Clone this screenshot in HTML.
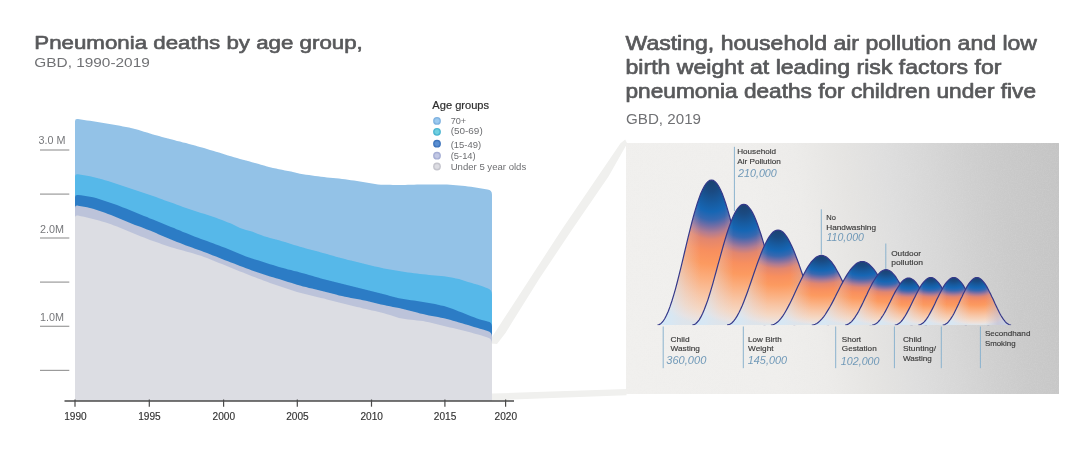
<!DOCTYPE html>
<html lang="en"><head><meta charset="utf-8"><title>Pneumonia deaths by age group</title>
<style>
html,body{margin:0;padding:0;background:#fff;}
body{width:1080px;height:451px;overflow:hidden;font-family:"Liberation Sans",sans-serif;}
svg{display:block;font-family:"Liberation Sans",sans-serif;}
</style></head><body>
<svg width="1080" height="451" viewBox="0 0 1080 451">
<defs>
<linearGradient id="pg" gradientUnits="userSpaceOnUse" x1="626" y1="394" x2="1085.4" y2="329.5">
<stop offset="0.000" stop-color="#f1f0ee"/>
<stop offset="0.323" stop-color="#f0efed"/>
<stop offset="0.431" stop-color="#edecea"/>
<stop offset="0.539" stop-color="#e5e4e2"/>
<stop offset="0.625" stop-color="#dedede"/>
<stop offset="0.711" stop-color="#d7d7d7"/>
<stop offset="0.797" stop-color="#cfcfcf"/>
<stop offset="0.862" stop-color="#cacaca"/>
<stop offset="0.927" stop-color="#c7c7c7"/>
<stop offset="1.000" stop-color="#c4c4c4"/>
</linearGradient>
<radialGradient id="bg" cx="0.5" cy="0" r="1" fx="0.5" fy="0">
<stop offset="0" stop-color="#1c416f"/>
<stop offset="0.08" stop-color="#1a4a82"/>
<stop offset="0.16" stop-color="#175ba0"/>
<stop offset="0.22" stop-color="#1666b4"/>
<stop offset="0.275" stop-color="#3868b0"/>
<stop offset="0.32" stop-color="#766ea4"/>
<stop offset="0.365" stop-color="#b27c90"/>
<stop offset="0.41" stop-color="#e2866e"/>
<stop offset="0.49" stop-color="#f88f5e"/>
<stop offset="0.58" stop-color="#fc9a60"/>
<stop offset="0.68" stop-color="#fbae7e"/>
<stop offset="0.80" stop-color="#f8c6a6"/>
<stop offset="0.90" stop-color="#f5d8c4"/>
<stop offset="0.97" stop-color="#ebe3e0"/>
<stop offset="1" stop-color="#dee5ea"/>
</radialGradient>
<linearGradient id="lt" x1="0" y1="0" x2="1" y2="0">
<stop offset="0" stop-color="#cfe8fb" stop-opacity="0.95"/>
<stop offset="0.13" stop-color="#d4e8f8" stop-opacity="0.62"/>
<stop offset="0.26" stop-color="#dde2ec" stop-opacity="0.28"/>
<stop offset="0.4" stop-color="#e0dce4" stop-opacity="0"/>
<stop offset="0.62" stop-color="#c0b4c8" stop-opacity="0"/>
<stop offset="0.8" stop-color="#b8b0c8" stop-opacity="0.5"/>
<stop offset="1" stop-color="#c8dcf0" stop-opacity="0.9"/>
</linearGradient>
<filter id="bl1" x="-5%" y="-5%" width="110%" height="110%"><feGaussianBlur stdDeviation="0.5"/></filter>
<filter id="nz" x="0" y="0" width="100%" height="100%"><feTurbulence type="fractalNoise" baseFrequency="0.85" numOctaves="2" seed="3" result="n"/><feColorMatrix type="matrix" values="0 0 0 0 0.8  0 0 0 0 0.8  0 0 0 0 0.8  0.9 0 0 0 -0.33"/></filter>
</defs>
<rect width="1080" height="451" fill="#ffffff"/>
<polygon points="488,343.2 503,320 561.5,230 620.5,143.3 625.2,139.6 627.2,143.5 608.5,176.6 571.8,230 538.5,280 526,300 513.5,320 505.5,333 497,344" fill="#f0f0ee" filter="url(#bl1)"/>
<polygon points="492,393.6 492,400.4 626.5,395.3 626.5,389" fill="#f0f0ee" filter="url(#bl1)"/>
<rect x="626" y="143" width="433" height="251" fill="url(#pg)"/>
<rect x="626" y="143" width="433" height="251" filter="url(#nz)" opacity="0.35"/>
<path d="M75,401 L75,121.2 Q75,118.7 77.5,119.0 L78.0,119.1 L81.0,119.5 L84.0,119.9 L87.0,120.4 L90.0,120.8 L93.0,121.3 L96.0,121.7 L99.0,122.2 L102.0,122.7 L105.0,123.3 L108.0,123.8 L111.0,124.3 L114.0,124.8 L117.0,125.3 L120.0,125.8 L123.0,126.4 L126.0,127.0 L129.0,127.6 L132.0,128.2 L135.0,129.0 L138.0,129.8 L141.0,130.7 L144.0,131.7 L147.0,132.6 L150.0,133.5 L153.0,134.4 L156.0,135.2 L159.0,136.1 L162.0,136.9 L165.0,137.7 L168.0,138.5 L171.0,139.3 L174.0,140.1 L177.0,140.9 L180.0,141.6 L183.0,142.4 L186.0,143.1 L189.0,143.9 L192.0,144.7 L195.0,145.5 L198.0,146.4 L201.0,147.2 L204.0,148.1 L207.0,149.0 L210.0,149.9 L213.0,150.8 L216.0,151.7 L219.0,152.6 L222.0,153.6 L225.0,154.5 L228.0,155.4 L231.0,156.3 L234.0,157.2 L237.0,158.0 L240.0,158.9 L243.0,159.7 L246.0,160.5 L249.0,161.3 L252.0,162.2 L255.0,163.0 L258.0,163.8 L261.0,164.7 L264.0,165.6 L267.0,166.4 L270.0,167.2 L273.0,168.0 L276.0,168.6 L279.0,169.3 L282.0,169.8 L285.0,170.4 L288.0,171.0 L291.0,171.6 L294.0,172.3 L297.0,173.1 L300.0,173.7 L303.0,174.2 L306.0,174.7 L309.0,175.1 L312.0,175.6 L315.0,176.0 L318.0,176.3 L321.0,176.7 L324.0,177.0 L327.0,177.4 L330.0,177.7 L333.0,177.9 L336.0,178.2 L339.0,178.6 L342.0,178.9 L345.0,179.3 L348.0,179.7 L351.0,180.2 L354.0,180.6 L357.0,181.1 L360.0,181.5 L363.0,182.0 L366.0,182.5 L369.0,183.0 L372.0,183.6 L375.0,184.1 L378.0,184.4 L381.0,184.7 L384.0,184.7 L387.0,184.8 L390.0,184.8 L393.0,184.9 L396.0,184.9 L399.0,184.9 L402.0,184.9 L405.0,184.9 L408.0,184.8 L411.0,184.7 L414.0,184.7 L417.0,184.6 L420.0,184.5 L423.0,184.5 L426.0,184.5 L429.0,184.5 L432.0,184.5 L435.0,184.5 L438.0,184.5 L441.0,184.5 L444.0,184.5 L447.0,184.6 L450.0,184.7 L453.0,184.9 L456.0,185.2 L459.0,185.4 L462.0,185.7 L465.0,186.0 L468.0,186.4 L471.0,186.8 L474.0,187.3 L477.0,187.8 L480.0,188.3 L483.0,188.8 L486.0,189.3 L487.5,189.6 Q492,189.8 492,194.8 L492,401 Z" fill="#93c2e7"/>
<path d="M75,401 L75,176.5 Q75,174.0 77.5,174.3 L78.0,174.3 L81.0,174.8 L84.0,175.2 L87.0,175.7 L90.0,176.3 L93.0,176.9 L96.0,177.7 L99.0,178.5 L102.0,179.3 L105.0,180.2 L108.0,181.1 L111.0,182.0 L114.0,182.9 L117.0,183.9 L120.0,184.9 L123.0,185.9 L126.0,186.9 L129.0,187.9 L132.0,188.9 L135.0,189.9 L138.0,190.9 L141.0,191.9 L144.0,193.0 L147.0,194.0 L150.0,195.0 L153.0,196.1 L156.0,197.1 L159.0,198.2 L162.0,199.3 L165.0,200.4 L168.0,201.5 L171.0,202.5 L174.0,203.6 L177.0,204.7 L180.0,205.8 L183.0,206.9 L186.0,207.9 L189.0,209.0 L192.0,210.0 L195.0,211.0 L198.0,211.9 L201.0,212.9 L204.0,213.8 L207.0,214.7 L210.0,215.7 L213.0,216.7 L216.0,217.8 L219.0,218.9 L222.0,220.0 L225.0,221.2 L228.0,222.4 L231.0,223.6 L234.0,225.0 L237.0,226.5 L240.0,227.9 L243.0,229.0 L246.0,229.9 L249.0,230.8 L252.0,231.6 L255.0,232.7 L258.0,233.9 L261.0,235.1 L264.0,236.2 L267.0,237.1 L270.0,237.9 L273.0,238.7 L276.0,239.5 L279.0,240.3 L282.0,241.2 L285.0,242.1 L288.0,243.0 L291.0,244.0 L294.0,244.9 L297.0,245.8 L300.0,246.7 L303.0,247.6 L306.0,248.4 L309.0,249.2 L312.0,250.0 L315.0,250.8 L318.0,251.6 L321.0,252.4 L324.0,253.2 L327.0,254.0 L330.0,254.9 L333.0,255.8 L336.0,256.7 L339.0,257.5 L342.0,258.3 L345.0,259.1 L348.0,259.9 L351.0,260.6 L354.0,261.3 L357.0,262.0 L360.0,262.8 L363.0,263.5 L366.0,264.2 L369.0,264.9 L372.0,265.7 L375.0,266.4 L378.0,267.1 L381.0,267.8 L384.0,268.4 L387.0,269.0 L390.0,269.5 L393.0,270.1 L396.0,270.6 L399.0,271.0 L402.0,271.5 L405.0,271.9 L408.0,272.4 L411.0,272.8 L414.0,273.2 L417.0,273.6 L420.0,273.9 L423.0,274.3 L426.0,274.6 L429.0,274.9 L432.0,275.2 L435.0,275.4 L438.0,275.7 L441.0,276.0 L444.0,276.3 L447.0,276.7 L450.0,277.2 L453.0,277.7 L456.0,278.4 L459.0,279.0 L462.0,279.9 L465.0,280.9 L468.0,281.9 L471.0,282.8 L474.0,283.7 L477.0,284.5 L480.0,285.5 L483.0,286.6 L486.0,287.7 L487.5,288.3 Q492,289.7 492,294.7 L492,401 Z" fill="#56b8e9"/>
<path d="M75,401 L75,197.3 Q75,194.8 77.5,195.0 L78.0,195.0 L81.0,195.3 L84.0,195.7 L87.0,196.2 L90.0,196.7 L93.0,197.3 L96.0,198.1 L99.0,198.9 L102.0,199.9 L105.0,200.9 L108.0,201.9 L111.0,202.9 L114.0,203.9 L117.0,205.0 L120.0,206.2 L123.0,207.4 L126.0,208.6 L129.0,209.8 L132.0,211.0 L135.0,212.2 L138.0,213.4 L141.0,214.7 L144.0,215.9 L147.0,217.1 L150.0,218.4 L153.0,219.6 L156.0,220.8 L159.0,222.0 L162.0,223.2 L165.0,224.5 L168.0,225.7 L171.0,226.9 L174.0,228.1 L177.0,229.4 L180.0,230.6 L183.0,231.9 L186.0,233.1 L189.0,234.3 L192.0,235.5 L195.0,236.7 L198.0,237.8 L201.0,238.9 L204.0,240.0 L207.0,241.1 L210.0,242.2 L213.0,243.3 L216.0,244.4 L219.0,245.6 L222.0,246.7 L225.0,247.8 L228.0,249.0 L231.0,250.2 L234.0,251.4 L237.0,252.8 L240.0,254.1 L243.0,255.3 L246.0,256.4 L249.0,257.4 L252.0,258.4 L255.0,259.4 L258.0,260.3 L261.0,261.3 L264.0,262.2 L267.0,263.2 L270.0,264.2 L273.0,265.1 L276.0,266.0 L279.0,266.9 L282.0,267.8 L285.0,268.6 L288.0,269.4 L291.0,270.1 L294.0,270.9 L297.0,271.6 L300.0,272.4 L303.0,273.2 L306.0,274.0 L309.0,274.9 L312.0,275.8 L315.0,276.7 L318.0,277.6 L321.0,278.5 L324.0,279.3 L327.0,280.0 L330.0,280.8 L333.0,281.5 L336.0,282.3 L339.0,283.0 L342.0,283.8 L345.0,284.5 L348.0,285.2 L351.0,286.0 L354.0,286.7 L357.0,287.5 L360.0,288.2 L363.0,288.9 L366.0,289.7 L369.0,290.5 L372.0,291.2 L375.0,292.0 L378.0,292.8 L381.0,293.5 L384.0,294.3 L387.0,295.1 L390.0,295.9 L393.0,296.7 L396.0,297.5 L399.0,298.2 L402.0,298.8 L405.0,299.3 L408.0,299.8 L411.0,300.2 L414.0,300.6 L417.0,301.0 L420.0,301.5 L423.0,301.9 L426.0,302.4 L429.0,303.0 L432.0,303.5 L435.0,304.1 L438.0,304.7 L441.0,305.4 L444.0,306.1 L447.0,306.9 L450.0,307.9 L453.0,309.0 L456.0,310.2 L459.0,311.4 L462.0,312.6 L465.0,313.8 L468.0,315.0 L471.0,316.2 L474.0,317.3 L477.0,318.4 L480.0,319.4 L483.0,320.2 L486.0,321.0 L487.5,321.4 Q492,321.8 492,326.8 L492,401 Z" fill="#2c7cc5"/>
<path d="M75,401 L75,207.8 Q75,205.3 77.5,205.6 L78.0,205.7 L81.0,206.2 L84.0,206.7 L87.0,207.3 L90.0,208.0 L93.0,208.8 L96.0,209.7 L99.0,210.7 L102.0,211.7 L105.0,212.8 L108.0,214.0 L111.0,215.1 L114.0,216.2 L117.0,217.5 L120.0,218.7 L123.0,220.0 L126.0,221.2 L129.0,222.5 L132.0,223.7 L135.0,224.9 L138.0,226.0 L141.0,227.1 L144.0,228.3 L147.0,229.4 L150.0,230.6 L153.0,231.8 L156.0,233.1 L159.0,234.4 L162.0,235.7 L165.0,237.0 L168.0,238.3 L171.0,239.6 L174.0,240.8 L177.0,242.0 L180.0,243.1 L183.0,244.3 L186.0,245.4 L189.0,246.5 L192.0,247.6 L195.0,248.7 L198.0,249.7 L201.0,250.8 L204.0,251.9 L207.0,253.1 L210.0,254.2 L213.0,255.4 L216.0,256.6 L219.0,257.8 L222.0,259.0 L225.0,260.2 L228.0,261.3 L231.0,262.5 L234.0,263.6 L237.0,264.8 L240.0,265.9 L243.0,267.0 L246.0,268.2 L249.0,269.3 L252.0,270.4 L255.0,271.5 L258.0,272.5 L261.0,273.6 L264.0,274.6 L267.0,275.5 L270.0,276.4 L273.0,277.3 L276.0,278.2 L279.0,279.1 L282.0,280.0 L285.0,280.9 L288.0,281.9 L291.0,282.8 L294.0,283.8 L297.0,284.7 L300.0,285.5 L303.0,286.4 L306.0,287.1 L309.0,287.9 L312.0,288.6 L315.0,289.3 L318.0,290.0 L321.0,290.7 L324.0,291.5 L327.0,292.2 L330.0,293.0 L333.0,293.8 L336.0,294.6 L339.0,295.4 L342.0,296.1 L345.0,296.7 L348.0,297.3 L351.0,297.9 L354.0,298.5 L357.0,299.0 L360.0,299.6 L363.0,300.2 L366.0,300.8 L369.0,301.5 L372.0,302.2 L375.0,303.0 L378.0,303.7 L381.0,304.4 L384.0,305.1 L387.0,305.7 L390.0,306.3 L393.0,306.9 L396.0,307.5 L399.0,308.1 L402.0,308.8 L405.0,309.5 L408.0,310.3 L411.0,311.0 L414.0,311.8 L417.0,312.6 L420.0,313.4 L423.0,314.1 L426.0,314.7 L429.0,315.4 L432.0,315.9 L435.0,316.5 L438.0,317.1 L441.0,317.7 L444.0,318.3 L447.0,319.0 L450.0,319.8 L453.0,320.7 L456.0,321.5 L459.0,322.4 L462.0,323.3 L465.0,324.2 L468.0,325.1 L471.0,326.0 L474.0,326.9 L477.0,327.8 L480.0,328.7 L483.0,329.6 L486.0,330.5 L487.5,330.9 Q492,331.8 492,336.8 L492,401 Z" fill="#bcc3da"/>
<path d="M75,401 L75,217.6 Q75,215.1 77.5,215.5 L78.0,215.6 L81.0,216.2 L84.0,216.8 L87.0,217.5 L90.0,218.2 L93.0,218.9 L96.0,219.7 L99.0,220.6 L102.0,221.4 L105.0,222.3 L108.0,223.3 L111.0,224.3 L114.0,225.4 L117.0,226.5 L120.0,227.8 L123.0,229.1 L126.0,230.3 L129.0,231.6 L132.0,232.8 L135.0,234.0 L138.0,235.2 L141.0,236.4 L144.0,237.6 L147.0,238.7 L150.0,239.9 L153.0,241.0 L156.0,242.1 L159.0,243.1 L162.0,244.2 L165.0,245.2 L168.0,246.2 L171.0,247.2 L174.0,248.1 L177.0,249.0 L180.0,249.8 L183.0,250.6 L186.0,251.4 L189.0,252.2 L192.0,253.1 L195.0,253.9 L198.0,254.9 L201.0,255.8 L204.0,256.9 L207.0,258.0 L210.0,259.2 L213.0,260.4 L216.0,261.7 L219.0,262.9 L222.0,264.1 L225.0,265.3 L228.0,266.5 L231.0,267.8 L234.0,269.0 L237.0,270.2 L240.0,271.4 L243.0,272.6 L246.0,273.8 L249.0,275.0 L252.0,276.2 L255.0,277.3 L258.0,278.5 L261.0,279.6 L264.0,280.7 L267.0,281.8 L270.0,282.9 L273.0,284.0 L276.0,285.1 L279.0,286.1 L282.0,287.1 L285.0,288.1 L288.0,289.1 L291.0,290.0 L294.0,291.0 L297.0,291.9 L300.0,292.7 L303.0,293.6 L306.0,294.3 L309.0,295.1 L312.0,295.8 L315.0,296.5 L318.0,297.2 L321.0,297.9 L324.0,298.6 L327.0,299.4 L330.0,300.2 L333.0,300.9 L336.0,301.7 L339.0,302.5 L342.0,303.3 L345.0,304.0 L348.0,304.7 L351.0,305.5 L354.0,306.2 L357.0,306.9 L360.0,307.6 L363.0,308.4 L366.0,309.1 L369.0,309.8 L372.0,310.4 L375.0,311.1 L378.0,311.8 L381.0,312.5 L384.0,313.3 L387.0,314.2 L390.0,315.1 L393.0,316.1 L396.0,317.0 L399.0,317.9 L402.0,318.5 L405.0,319.0 L408.0,319.4 L411.0,319.7 L414.0,320.0 L417.0,320.4 L420.0,320.7 L423.0,321.1 L426.0,321.7 L429.0,322.3 L432.0,323.0 L435.0,323.7 L438.0,324.5 L441.0,325.3 L444.0,326.0 L447.0,326.7 L450.0,327.4 L453.0,328.1 L456.0,328.7 L459.0,329.4 L462.0,330.2 L465.0,331.0 L468.0,331.8 L471.0,332.6 L474.0,333.4 L477.0,334.2 L480.0,335.0 L483.0,335.9 L486.0,336.9 L487.5,337.4 Q492,338.5 492,343.5 L492,401 Z" fill="#dcdde3"/>
<line x1="40" x2="69.3" y1="150" y2="150" stroke="#9b9b9b" stroke-width="1.2"/>
<line x1="40" x2="69.3" y1="194.1" y2="194.1" stroke="#9b9b9b" stroke-width="1.2"/>
<line x1="40" x2="69.3" y1="238.0" y2="238.0" stroke="#9b9b9b" stroke-width="1.2"/>
<line x1="40" x2="69.3" y1="282.1" y2="282.1" stroke="#9b9b9b" stroke-width="1.2"/>
<line x1="40" x2="69.3" y1="326.3" y2="326.3" stroke="#9b9b9b" stroke-width="1.2"/>
<line x1="40" x2="69.3" y1="370.4" y2="370.4" stroke="#9b9b9b" stroke-width="1.2"/>
<line x1="64.5" x2="514" y1="401" y2="401" stroke="#4a4a4a" stroke-width="1.3"/>
<line x1="75" x2="75" y1="399.5" y2="406.7" stroke="#4a4a4a" stroke-width="1.2"/>
<line x1="149.3" x2="149.3" y1="399.5" y2="406.7" stroke="#4a4a4a" stroke-width="1.2"/>
<line x1="223.6" x2="223.6" y1="399.5" y2="406.7" stroke="#4a4a4a" stroke-width="1.2"/>
<line x1="297.3" x2="297.3" y1="399.5" y2="406.7" stroke="#4a4a4a" stroke-width="1.2"/>
<line x1="371.5" x2="371.5" y1="399.5" y2="406.7" stroke="#4a4a4a" stroke-width="1.2"/>
<line x1="444.9" x2="444.9" y1="399.5" y2="406.7" stroke="#4a4a4a" stroke-width="1.2"/>
<line x1="505.6" x2="505.6" y1="399.5" y2="406.7" stroke="#4a4a4a" stroke-width="1.2"/>
<text x="75.5" y="420" font-size="10.2" fill="#333333" font-weight="normal" font-style="normal" text-anchor="middle" textLength="22.5" lengthAdjust="spacingAndGlyphs" stroke="#333333" stroke-width="0.15" stroke-linejoin="round">1990</text>
<text x="149.5" y="420" font-size="10.2" fill="#333333" font-weight="normal" font-style="normal" text-anchor="middle" textLength="22.5" lengthAdjust="spacingAndGlyphs" stroke="#333333" stroke-width="0.15" stroke-linejoin="round">1995</text>
<text x="223.8" y="420" font-size="10.2" fill="#333333" font-weight="normal" font-style="normal" text-anchor="middle" textLength="22.5" lengthAdjust="spacingAndGlyphs" stroke="#333333" stroke-width="0.15" stroke-linejoin="round">2000</text>
<text x="297.5" y="420" font-size="10.2" fill="#333333" font-weight="normal" font-style="normal" text-anchor="middle" textLength="22.5" lengthAdjust="spacingAndGlyphs" stroke="#333333" stroke-width="0.15" stroke-linejoin="round">2005</text>
<text x="371.7" y="420" font-size="10.2" fill="#333333" font-weight="normal" font-style="normal" text-anchor="middle" textLength="22.5" lengthAdjust="spacingAndGlyphs" stroke="#333333" stroke-width="0.15" stroke-linejoin="round">2010</text>
<text x="445.1" y="420" font-size="10.2" fill="#333333" font-weight="normal" font-style="normal" text-anchor="middle" textLength="22.5" lengthAdjust="spacingAndGlyphs" stroke="#333333" stroke-width="0.15" stroke-linejoin="round">2015</text>
<text x="505.8" y="420" font-size="10.2" fill="#333333" font-weight="normal" font-style="normal" text-anchor="middle" textLength="22.5" lengthAdjust="spacingAndGlyphs" stroke="#333333" stroke-width="0.15" stroke-linejoin="round">2020</text>
<text x="38.5" y="144" font-size="10.5" fill="#77787b" font-weight="normal" font-style="normal" text-anchor="start" textLength="27" lengthAdjust="spacingAndGlyphs">3.0 M</text>
<text x="40" y="233.4" font-size="10.5" fill="#77787b" font-weight="normal" font-style="normal" text-anchor="start" textLength="24" lengthAdjust="spacingAndGlyphs">2.0M</text>
<text x="40" y="321.4" font-size="10.5" fill="#77787b" font-weight="normal" font-style="normal" text-anchor="start" textLength="24" lengthAdjust="spacingAndGlyphs">1.0M</text>
<text x="34.3" y="49.4" font-size="19.2" fill="#58595b" font-weight="normal" font-style="normal" text-anchor="start" textLength="328.5" lengthAdjust="spacingAndGlyphs" stroke="#58595b" stroke-width="0.65" stroke-linejoin="round">Pneumonia deaths by age group,</text>
<text x="34.3" y="67.4" font-size="13.1" fill="#707174" font-weight="normal" font-style="normal" text-anchor="start" textLength="115.5" lengthAdjust="spacingAndGlyphs">GBD, 1990-2019</text>
<text x="625.5" y="50" font-size="20.4" fill="#58595b" font-weight="normal" font-style="normal" text-anchor="start" textLength="411.5" lengthAdjust="spacingAndGlyphs" stroke="#58595b" stroke-width="0.7" stroke-linejoin="round">Wasting, household air pollution and low</text>
<text x="625.5" y="74.2" font-size="20.4" fill="#58595b" font-weight="normal" font-style="normal" text-anchor="start" textLength="376" lengthAdjust="spacingAndGlyphs" stroke="#58595b" stroke-width="0.7" stroke-linejoin="round">birth weight at leading risk factors for</text>
<text x="625.5" y="98.4" font-size="20.4" fill="#58595b" font-weight="normal" font-style="normal" text-anchor="start" textLength="410.5" lengthAdjust="spacingAndGlyphs" stroke="#58595b" stroke-width="0.7" stroke-linejoin="round">pneumonia deaths for children under five</text>
<text x="626" y="124.2" font-size="13.9" fill="#707174" font-weight="normal" font-style="normal" text-anchor="start" textLength="75" lengthAdjust="spacingAndGlyphs">GBD, 2019</text>
<text x="432.3" y="108.5" font-size="10.3" fill="#2e2e2e" font-weight="normal" font-style="normal" text-anchor="start" textLength="56.8" lengthAdjust="spacingAndGlyphs" stroke="#2e2e2e" stroke-width="0.2" stroke-linejoin="round">Age groups</text>
<radialGradient id="lg0" cx="0.5" cy="0.5" r="0.5"><stop offset="0" stop-color="#9ccaf0"/><stop offset="0.45" stop-color="#9ccaf0"/><stop offset="0.8" stop-color="#7fb2e0"/><stop offset="1" stop-color="#7fb2e0"/></radialGradient>
<circle cx="437" cy="120.9" r="3.9" fill="url(#lg0)"/>
<text x="450.7" y="124" font-size="8.6" fill="#6d6e71" font-weight="normal" font-style="normal" text-anchor="start" textLength="15.5" lengthAdjust="spacingAndGlyphs">70+</text>
<radialGradient id="lg1" cx="0.5" cy="0.5" r="0.5"><stop offset="0" stop-color="#70d0e0"/><stop offset="0.45" stop-color="#70d0e0"/><stop offset="0.8" stop-color="#4ab4d0"/><stop offset="1" stop-color="#4ab4d0"/></radialGradient>
<circle cx="437" cy="131.8" r="3.9" fill="url(#lg1)"/>
<text x="450.7" y="134.4" font-size="8.6" fill="#6d6e71" font-weight="normal" font-style="normal" text-anchor="start" textLength="32" lengthAdjust="spacingAndGlyphs">(50-69)</text>
<radialGradient id="lg2" cx="0.5" cy="0.5" r="0.5"><stop offset="0" stop-color="#5a8fd2"/><stop offset="0.45" stop-color="#5a8fd2"/><stop offset="0.8" stop-color="#3e74bc"/><stop offset="1" stop-color="#3e74bc"/></radialGradient>
<circle cx="437" cy="143.7" r="3.9" fill="url(#lg2)"/>
<text x="450.7" y="148" font-size="8.6" fill="#6d6e71" font-weight="normal" font-style="normal" text-anchor="start" textLength="30.5" lengthAdjust="spacingAndGlyphs">(15-49)</text>
<radialGradient id="lg3" cx="0.5" cy="0.5" r="0.5"><stop offset="0" stop-color="#c2c8e4"/><stop offset="0.45" stop-color="#c2c8e4"/><stop offset="0.8" stop-color="#a6aed4"/><stop offset="1" stop-color="#a6aed4"/></radialGradient>
<circle cx="437" cy="155.7" r="3.9" fill="url(#lg3)"/>
<text x="450.7" y="159.4" font-size="8.6" fill="#6d6e71" font-weight="normal" font-style="normal" text-anchor="start" textLength="25" lengthAdjust="spacingAndGlyphs">(5-14)</text>
<radialGradient id="lg4" cx="0.5" cy="0.5" r="0.5"><stop offset="0" stop-color="#dddde3"/><stop offset="0.45" stop-color="#dddde3"/><stop offset="0.8" stop-color="#c4c4cc"/><stop offset="1" stop-color="#c4c4cc"/></radialGradient>
<circle cx="437" cy="166.5" r="3.9" fill="url(#lg4)"/>
<text x="450.7" y="170" font-size="8.6" fill="#6d6e71" font-weight="normal" font-style="normal" text-anchor="start" textLength="75.5" lengthAdjust="spacingAndGlyphs">Under 5 year olds</text>
<clipPath id="bc"><rect x="626" y="143" width="433" height="182.3"/></clipPath>
<g clip-path="url(#bc)">
<path d="M657.5,325.0 L659.3,324.6 L661.1,323.4 L662.9,321.5 L664.7,318.7 L666.5,315.3 L668.3,311.2 L670.1,306.4 L671.9,301.0 L673.7,295.1 L675.5,288.8 L677.3,282.0 L679.1,274.9 L680.9,267.6 L682.7,260.1 L684.5,252.5 L686.3,244.9 L688.1,237.4 L689.9,230.1 L691.7,223.0 L693.5,216.2 L695.3,209.9 L697.1,204.0 L698.9,198.6 L700.7,193.8 L702.5,189.7 L704.3,186.3 L706.1,183.5 L707.9,181.6 L709.7,180.4 L711.5,180.0 L713.3,180.4 L715.1,181.6 L716.9,183.5 L718.7,186.3 L720.5,189.7 L722.3,193.8 L724.1,198.6 L725.9,204.0 L727.7,209.9 L729.5,216.2 L731.3,223.0 L733.1,230.1 L734.9,237.4 L736.7,244.9 L738.5,252.5 L740.3,260.1 L742.1,267.6 L743.9,274.9 L745.7,282.0 L747.5,288.8 L749.3,295.1 L751.1,301.0 L752.9,306.4 L754.7,311.2 L756.5,315.3 L758.3,318.7 L760.1,321.5 L761.9,323.4 L763.7,324.6 L765.5,325.0 Z" fill="url(#bg)"/>
<path d="M657.5,325.0 L659.3,324.6 L661.1,323.4 L662.9,321.5 L664.7,318.7 L666.5,315.3 L668.3,311.2 L670.1,306.4 L671.9,301.0 L673.7,295.1 L675.5,288.8 L677.3,282.0 L679.1,274.9 L680.9,267.6 L682.7,260.1 L684.5,252.5 L686.3,244.9 L688.1,237.4 L689.9,230.1 L691.7,223.0 L693.5,216.2 L695.3,209.9 L697.1,204.0 L698.9,198.6 L700.7,193.8 L702.5,189.7 L704.3,186.3 L706.1,183.5 L707.9,181.6 L709.7,180.4 L711.5,180.0 L713.3,180.4 L715.1,181.6 L716.9,183.5 L718.7,186.3 L720.5,189.7 L722.3,193.8 L724.1,198.6 L725.9,204.0 L727.7,209.9 L729.5,216.2 L731.3,223.0 L733.1,230.1 L734.9,237.4 L736.7,244.9 L738.5,252.5 L740.3,260.1 L742.1,267.6 L743.9,274.9 L745.7,282.0 L747.5,288.8 L749.3,295.1 L751.1,301.0 L752.9,306.4 L754.7,311.2 L756.5,315.3 L758.3,318.7 L760.1,321.5 L761.9,323.4 L763.7,324.6 L765.5,325.0 Z" fill="url(#lt)"/>
<path d="M657.5,325.0 L659.3,324.6 L661.1,323.4 L662.9,321.5 L664.7,318.7 L666.5,315.3 L668.3,311.2 L670.1,306.4 L671.9,301.0 L673.7,295.1 L675.5,288.8 L677.3,282.0 L679.1,274.9 L680.9,267.6 L682.7,260.1 L684.5,252.5 L686.3,244.9 L688.1,237.4 L689.9,230.1 L691.7,223.0 L693.5,216.2 L695.3,209.9 L697.1,204.0 L698.9,198.6 L700.7,193.8 L702.5,189.7 L704.3,186.3 L706.1,183.5 L707.9,181.6 L709.7,180.4 L711.5,180.0 L713.3,180.4 L715.1,181.6 L716.9,183.5 L718.7,186.3 L720.5,189.7 L722.3,193.8 L724.1,198.6 L725.9,204.0 L727.7,209.9 L729.5,216.2 L731.3,223.0 L733.1,230.1 L734.9,237.4 L736.7,244.9 L738.5,252.5 L740.3,260.1 L742.1,267.6 L743.9,274.9 L745.7,282.0 L747.5,288.8 L749.3,295.1 L751.1,301.0 L752.9,306.4 L754.7,311.2 L756.5,315.3 L758.3,318.7 L760.1,321.5 L761.9,323.4 L763.7,324.6 L765.5,325.0" fill="none" stroke="#35398a" stroke-width="1.2"/>
<path d="M692.3,325.0 L694.0,324.7 L695.7,323.7 L697.4,322.0 L699.2,319.8 L700.9,316.9 L702.6,313.5 L704.3,309.5 L706.0,305.0 L707.8,300.1 L709.5,294.8 L711.2,289.2 L712.9,283.3 L714.6,277.2 L716.3,271.0 L718.0,264.6 L719.8,258.3 L721.5,252.1 L723.2,246.0 L724.9,240.1 L726.6,234.5 L728.3,229.2 L730.1,224.3 L731.8,219.8 L733.5,215.8 L735.2,212.4 L736.9,209.5 L738.6,207.3 L740.4,205.6 L742.1,204.6 L743.8,204.3 L745.5,204.6 L747.2,205.6 L748.9,207.3 L750.7,209.5 L752.4,212.4 L754.1,215.8 L755.8,219.8 L757.5,224.3 L759.2,229.2 L761.0,234.5 L762.7,240.1 L764.4,246.0 L766.1,252.1 L767.8,258.3 L769.5,264.6 L771.3,271.0 L773.0,277.2 L774.7,283.3 L776.4,289.2 L778.1,294.8 L779.8,300.1 L781.6,305.0 L783.3,309.5 L785.0,313.5 L786.7,316.9 L788.4,319.8 L790.1,322.0 L791.9,323.7 L793.6,324.7 L795.3,325.0 Z" fill="url(#bg)"/>
<path d="M692.3,325.0 L694.0,324.7 L695.7,323.7 L697.4,322.0 L699.2,319.8 L700.9,316.9 L702.6,313.5 L704.3,309.5 L706.0,305.0 L707.8,300.1 L709.5,294.8 L711.2,289.2 L712.9,283.3 L714.6,277.2 L716.3,271.0 L718.0,264.6 L719.8,258.3 L721.5,252.1 L723.2,246.0 L724.9,240.1 L726.6,234.5 L728.3,229.2 L730.1,224.3 L731.8,219.8 L733.5,215.8 L735.2,212.4 L736.9,209.5 L738.6,207.3 L740.4,205.6 L742.1,204.6 L743.8,204.3 L745.5,204.6 L747.2,205.6 L748.9,207.3 L750.7,209.5 L752.4,212.4 L754.1,215.8 L755.8,219.8 L757.5,224.3 L759.2,229.2 L761.0,234.5 L762.7,240.1 L764.4,246.0 L766.1,252.1 L767.8,258.3 L769.5,264.6 L771.3,271.0 L773.0,277.2 L774.7,283.3 L776.4,289.2 L778.1,294.8 L779.8,300.1 L781.6,305.0 L783.3,309.5 L785.0,313.5 L786.7,316.9 L788.4,319.8 L790.1,322.0 L791.9,323.7 L793.6,324.7 L795.3,325.0 Z" fill="url(#lt)"/>
<path d="M692.3,325.0 L694.0,324.7 L695.7,323.7 L697.4,322.0 L699.2,319.8 L700.9,316.9 L702.6,313.5 L704.3,309.5 L706.0,305.0 L707.8,300.1 L709.5,294.8 L711.2,289.2 L712.9,283.3 L714.6,277.2 L716.3,271.0 L718.0,264.6 L719.8,258.3 L721.5,252.1 L723.2,246.0 L724.9,240.1 L726.6,234.5 L728.3,229.2 L730.1,224.3 L731.8,219.8 L733.5,215.8 L735.2,212.4 L736.9,209.5 L738.6,207.3 L740.4,205.6 L742.1,204.6 L743.8,204.3 L745.5,204.6 L747.2,205.6 L748.9,207.3 L750.7,209.5 L752.4,212.4 L754.1,215.8 L755.8,219.8 L757.5,224.3 L759.2,229.2 L761.0,234.5 L762.7,240.1 L764.4,246.0 L766.1,252.1 L767.8,258.3 L769.5,264.6 L771.3,271.0 L773.0,277.2 L774.7,283.3 L776.4,289.2 L778.1,294.8 L779.8,300.1 L781.6,305.0 L783.3,309.5 L785.0,313.5 L786.7,316.9 L788.4,319.8 L790.1,322.0 L791.9,323.7 L793.6,324.7 L795.3,325.0" fill="none" stroke="#35398a" stroke-width="1.2"/>
<path d="M727.0,325.0 L728.7,324.7 L730.4,324.0 L732.1,322.7 L733.8,320.9 L735.5,318.6 L737.2,315.9 L738.9,312.8 L740.6,309.3 L742.3,305.4 L744.0,301.2 L745.7,296.8 L747.4,292.2 L749.1,287.4 L750.8,282.5 L752.5,277.5 L754.2,272.5 L755.9,267.6 L757.6,262.8 L759.3,258.2 L761.0,253.8 L762.7,249.6 L764.4,245.7 L766.1,242.2 L767.8,239.1 L769.5,236.4 L771.2,234.1 L772.9,232.3 L774.6,231.0 L776.3,230.3 L778.0,230.0 L779.7,230.3 L781.4,231.0 L783.1,232.3 L784.8,234.1 L786.5,236.4 L788.2,239.1 L789.9,242.2 L791.6,245.7 L793.3,249.6 L795.0,253.8 L796.7,258.2 L798.4,262.8 L800.1,267.6 L801.8,272.5 L803.5,277.5 L805.2,282.5 L806.9,287.4 L808.6,292.2 L810.3,296.8 L812.0,301.2 L813.7,305.4 L815.4,309.3 L817.1,312.8 L818.8,315.9 L820.5,318.6 L822.2,320.9 L823.9,322.7 L825.6,324.0 L827.3,324.7 L829.0,325.0 Z" fill="url(#bg)"/>
<path d="M727.0,325.0 L728.7,324.7 L730.4,324.0 L732.1,322.7 L733.8,320.9 L735.5,318.6 L737.2,315.9 L738.9,312.8 L740.6,309.3 L742.3,305.4 L744.0,301.2 L745.7,296.8 L747.4,292.2 L749.1,287.4 L750.8,282.5 L752.5,277.5 L754.2,272.5 L755.9,267.6 L757.6,262.8 L759.3,258.2 L761.0,253.8 L762.7,249.6 L764.4,245.7 L766.1,242.2 L767.8,239.1 L769.5,236.4 L771.2,234.1 L772.9,232.3 L774.6,231.0 L776.3,230.3 L778.0,230.0 L779.7,230.3 L781.4,231.0 L783.1,232.3 L784.8,234.1 L786.5,236.4 L788.2,239.1 L789.9,242.2 L791.6,245.7 L793.3,249.6 L795.0,253.8 L796.7,258.2 L798.4,262.8 L800.1,267.6 L801.8,272.5 L803.5,277.5 L805.2,282.5 L806.9,287.4 L808.6,292.2 L810.3,296.8 L812.0,301.2 L813.7,305.4 L815.4,309.3 L817.1,312.8 L818.8,315.9 L820.5,318.6 L822.2,320.9 L823.9,322.7 L825.6,324.0 L827.3,324.7 L829.0,325.0 Z" fill="url(#lt)"/>
<path d="M727.0,325.0 L728.7,324.7 L730.4,324.0 L732.1,322.7 L733.8,320.9 L735.5,318.6 L737.2,315.9 L738.9,312.8 L740.6,309.3 L742.3,305.4 L744.0,301.2 L745.7,296.8 L747.4,292.2 L749.1,287.4 L750.8,282.5 L752.5,277.5 L754.2,272.5 L755.9,267.6 L757.6,262.8 L759.3,258.2 L761.0,253.8 L762.7,249.6 L764.4,245.7 L766.1,242.2 L767.8,239.1 L769.5,236.4 L771.2,234.1 L772.9,232.3 L774.6,231.0 L776.3,230.3 L778.0,230.0 L779.7,230.3 L781.4,231.0 L783.1,232.3 L784.8,234.1 L786.5,236.4 L788.2,239.1 L789.9,242.2 L791.6,245.7 L793.3,249.6 L795.0,253.8 L796.7,258.2 L798.4,262.8 L800.1,267.6 L801.8,272.5 L803.5,277.5 L805.2,282.5 L806.9,287.4 L808.6,292.2 L810.3,296.8 L812.0,301.2 L813.7,305.4 L815.4,309.3 L817.1,312.8 L818.8,315.9 L820.5,318.6 L822.2,320.9 L823.9,322.7 L825.6,324.0 L827.3,324.7 L829.0,325.0" fill="none" stroke="#35398a" stroke-width="1.2"/>
<path d="M770.9,325.0 L772.6,324.8 L774.3,324.2 L775.9,323.3 L777.6,322.0 L779.3,320.3 L781.0,318.4 L782.7,316.1 L784.4,313.5 L786.0,310.7 L787.7,307.6 L789.4,304.4 L791.1,301.0 L792.8,297.4 L794.5,293.8 L796.1,290.2 L797.8,286.6 L799.5,283.0 L801.2,279.4 L802.9,276.0 L804.6,272.8 L806.2,269.7 L807.9,266.9 L809.6,264.3 L811.3,262.0 L813.0,260.1 L814.7,258.4 L816.4,257.1 L818.0,256.2 L819.7,255.6 L821.4,255.4 L823.1,255.6 L824.8,256.2 L826.4,257.1 L828.1,258.4 L829.8,260.1 L831.5,262.0 L833.2,264.3 L834.9,266.9 L836.5,269.7 L838.2,272.8 L839.9,276.0 L841.6,279.4 L843.3,283.0 L845.0,286.6 L846.6,290.2 L848.3,293.8 L850.0,297.4 L851.7,301.0 L853.4,304.4 L855.1,307.6 L856.8,310.7 L858.4,313.5 L860.1,316.1 L861.8,318.4 L863.5,320.3 L865.2,322.0 L866.9,323.3 L868.5,324.2 L870.2,324.8 L871.9,325.0 Z" fill="url(#bg)"/>
<path d="M770.9,325.0 L772.6,324.8 L774.3,324.2 L775.9,323.3 L777.6,322.0 L779.3,320.3 L781.0,318.4 L782.7,316.1 L784.4,313.5 L786.0,310.7 L787.7,307.6 L789.4,304.4 L791.1,301.0 L792.8,297.4 L794.5,293.8 L796.1,290.2 L797.8,286.6 L799.5,283.0 L801.2,279.4 L802.9,276.0 L804.6,272.8 L806.2,269.7 L807.9,266.9 L809.6,264.3 L811.3,262.0 L813.0,260.1 L814.7,258.4 L816.4,257.1 L818.0,256.2 L819.7,255.6 L821.4,255.4 L823.1,255.6 L824.8,256.2 L826.4,257.1 L828.1,258.4 L829.8,260.1 L831.5,262.0 L833.2,264.3 L834.9,266.9 L836.5,269.7 L838.2,272.8 L839.9,276.0 L841.6,279.4 L843.3,283.0 L845.0,286.6 L846.6,290.2 L848.3,293.8 L850.0,297.4 L851.7,301.0 L853.4,304.4 L855.1,307.6 L856.8,310.7 L858.4,313.5 L860.1,316.1 L861.8,318.4 L863.5,320.3 L865.2,322.0 L866.9,323.3 L868.5,324.2 L870.2,324.8 L871.9,325.0 Z" fill="url(#lt)"/>
<path d="M770.9,325.0 L772.6,324.8 L774.3,324.2 L775.9,323.3 L777.6,322.0 L779.3,320.3 L781.0,318.4 L782.7,316.1 L784.4,313.5 L786.0,310.7 L787.7,307.6 L789.4,304.4 L791.1,301.0 L792.8,297.4 L794.5,293.8 L796.1,290.2 L797.8,286.6 L799.5,283.0 L801.2,279.4 L802.9,276.0 L804.6,272.8 L806.2,269.7 L807.9,266.9 L809.6,264.3 L811.3,262.0 L813.0,260.1 L814.7,258.4 L816.4,257.1 L818.0,256.2 L819.7,255.6 L821.4,255.4 L823.1,255.6 L824.8,256.2 L826.4,257.1 L828.1,258.4 L829.8,260.1 L831.5,262.0 L833.2,264.3 L834.9,266.9 L836.5,269.7 L838.2,272.8 L839.9,276.0 L841.6,279.4 L843.3,283.0 L845.0,286.6 L846.6,290.2 L848.3,293.8 L850.0,297.4 L851.7,301.0 L853.4,304.4 L855.1,307.6 L856.8,310.7 L858.4,313.5 L860.1,316.1 L861.8,318.4 L863.5,320.3 L865.2,322.0 L866.9,323.3 L868.5,324.2 L870.2,324.8 L871.9,325.0" fill="none" stroke="#35398a" stroke-width="1.2"/>
<path d="M811.8,325.0 L813.5,324.8 L815.2,324.3 L816.8,323.4 L818.5,322.3 L820.2,320.7 L821.9,318.9 L823.6,316.8 L825.3,314.5 L826.9,311.9 L828.6,309.1 L830.3,306.2 L832.0,303.1 L833.7,299.9 L835.4,296.6 L837.0,293.2 L838.7,289.9 L840.4,286.6 L842.1,283.4 L843.8,280.3 L845.5,277.4 L847.1,274.6 L848.8,272.0 L850.5,269.7 L852.2,267.6 L853.9,265.8 L855.6,264.2 L857.2,263.1 L858.9,262.2 L860.6,261.7 L862.3,261.5 L864.0,261.7 L865.7,262.2 L867.3,263.1 L869.0,264.2 L870.7,265.8 L872.4,267.6 L874.1,269.7 L875.8,272.0 L877.4,274.6 L879.1,277.4 L880.8,280.3 L882.5,283.4 L884.2,286.6 L885.9,289.9 L887.5,293.2 L889.2,296.6 L890.9,299.9 L892.6,303.1 L894.3,306.2 L896.0,309.1 L897.6,311.9 L899.3,314.5 L901.0,316.8 L902.7,318.9 L904.4,320.7 L906.1,322.3 L907.8,323.4 L909.4,324.3 L911.1,324.8 L912.8,325.0 Z" fill="url(#bg)"/>
<path d="M811.8,325.0 L813.5,324.8 L815.2,324.3 L816.8,323.4 L818.5,322.3 L820.2,320.7 L821.9,318.9 L823.6,316.8 L825.3,314.5 L826.9,311.9 L828.6,309.1 L830.3,306.2 L832.0,303.1 L833.7,299.9 L835.4,296.6 L837.0,293.2 L838.7,289.9 L840.4,286.6 L842.1,283.4 L843.8,280.3 L845.5,277.4 L847.1,274.6 L848.8,272.0 L850.5,269.7 L852.2,267.6 L853.9,265.8 L855.6,264.2 L857.2,263.1 L858.9,262.2 L860.6,261.7 L862.3,261.5 L864.0,261.7 L865.7,262.2 L867.3,263.1 L869.0,264.2 L870.7,265.8 L872.4,267.6 L874.1,269.7 L875.8,272.0 L877.4,274.6 L879.1,277.4 L880.8,280.3 L882.5,283.4 L884.2,286.6 L885.9,289.9 L887.5,293.2 L889.2,296.6 L890.9,299.9 L892.6,303.1 L894.3,306.2 L896.0,309.1 L897.6,311.9 L899.3,314.5 L901.0,316.8 L902.7,318.9 L904.4,320.7 L906.1,322.3 L907.8,323.4 L909.4,324.3 L911.1,324.8 L912.8,325.0 Z" fill="url(#lt)"/>
<path d="M811.8,325.0 L813.5,324.8 L815.2,324.3 L816.8,323.4 L818.5,322.3 L820.2,320.7 L821.9,318.9 L823.6,316.8 L825.3,314.5 L826.9,311.9 L828.6,309.1 L830.3,306.2 L832.0,303.1 L833.7,299.9 L835.4,296.6 L837.0,293.2 L838.7,289.9 L840.4,286.6 L842.1,283.4 L843.8,280.3 L845.5,277.4 L847.1,274.6 L848.8,272.0 L850.5,269.7 L852.2,267.6 L853.9,265.8 L855.6,264.2 L857.2,263.1 L858.9,262.2 L860.6,261.7 L862.3,261.5 L864.0,261.7 L865.7,262.2 L867.3,263.1 L869.0,264.2 L870.7,265.8 L872.4,267.6 L874.1,269.7 L875.8,272.0 L877.4,274.6 L879.1,277.4 L880.8,280.3 L882.5,283.4 L884.2,286.6 L885.9,289.9 L887.5,293.2 L889.2,296.6 L890.9,299.9 L892.6,303.1 L894.3,306.2 L896.0,309.1 L897.6,311.9 L899.3,314.5 L901.0,316.8 L902.7,318.9 L904.4,320.7 L906.1,322.3 L907.8,323.4 L909.4,324.3 L911.1,324.8 L912.8,325.0" fill="none" stroke="#35398a" stroke-width="1.2"/>
<path d="M845.0,325.0 L846.4,324.8 L847.7,324.4 L849.1,323.6 L850.5,322.6 L851.8,321.3 L853.2,319.7 L854.6,317.9 L855.9,315.8 L857.3,313.6 L858.7,311.2 L860.0,308.6 L861.4,305.9 L862.8,303.1 L864.1,300.2 L865.5,297.3 L866.9,294.4 L868.2,291.5 L869.6,288.7 L871.0,286.0 L872.3,283.4 L873.7,281.0 L875.1,278.8 L876.4,276.7 L877.8,274.9 L879.2,273.3 L880.5,272.0 L881.9,271.0 L883.3,270.2 L884.6,269.8 L886.0,269.6 L887.4,269.8 L888.7,270.2 L890.1,271.0 L891.5,272.0 L892.8,273.3 L894.2,274.9 L895.6,276.7 L896.9,278.8 L898.3,281.0 L899.7,283.4 L901.0,286.0 L902.4,288.7 L903.8,291.5 L905.1,294.4 L906.5,297.3 L907.9,300.2 L909.2,303.1 L910.6,305.9 L912.0,308.6 L913.3,311.2 L914.7,313.6 L916.1,315.8 L917.4,317.9 L918.8,319.7 L920.2,321.3 L921.5,322.6 L922.9,323.6 L924.3,324.4 L925.6,324.8 L927.0,325.0 Z" fill="url(#bg)"/>
<path d="M845.0,325.0 L846.4,324.8 L847.7,324.4 L849.1,323.6 L850.5,322.6 L851.8,321.3 L853.2,319.7 L854.6,317.9 L855.9,315.8 L857.3,313.6 L858.7,311.2 L860.0,308.6 L861.4,305.9 L862.8,303.1 L864.1,300.2 L865.5,297.3 L866.9,294.4 L868.2,291.5 L869.6,288.7 L871.0,286.0 L872.3,283.4 L873.7,281.0 L875.1,278.8 L876.4,276.7 L877.8,274.9 L879.2,273.3 L880.5,272.0 L881.9,271.0 L883.3,270.2 L884.6,269.8 L886.0,269.6 L887.4,269.8 L888.7,270.2 L890.1,271.0 L891.5,272.0 L892.8,273.3 L894.2,274.9 L895.6,276.7 L896.9,278.8 L898.3,281.0 L899.7,283.4 L901.0,286.0 L902.4,288.7 L903.8,291.5 L905.1,294.4 L906.5,297.3 L907.9,300.2 L909.2,303.1 L910.6,305.9 L912.0,308.6 L913.3,311.2 L914.7,313.6 L916.1,315.8 L917.4,317.9 L918.8,319.7 L920.2,321.3 L921.5,322.6 L922.9,323.6 L924.3,324.4 L925.6,324.8 L927.0,325.0 Z" fill="url(#lt)"/>
<path d="M845.0,325.0 L846.4,324.8 L847.7,324.4 L849.1,323.6 L850.5,322.6 L851.8,321.3 L853.2,319.7 L854.6,317.9 L855.9,315.8 L857.3,313.6 L858.7,311.2 L860.0,308.6 L861.4,305.9 L862.8,303.1 L864.1,300.2 L865.5,297.3 L866.9,294.4 L868.2,291.5 L869.6,288.7 L871.0,286.0 L872.3,283.4 L873.7,281.0 L875.1,278.8 L876.4,276.7 L877.8,274.9 L879.2,273.3 L880.5,272.0 L881.9,271.0 L883.3,270.2 L884.6,269.8 L886.0,269.6 L887.4,269.8 L888.7,270.2 L890.1,271.0 L891.5,272.0 L892.8,273.3 L894.2,274.9 L895.6,276.7 L896.9,278.8 L898.3,281.0 L899.7,283.4 L901.0,286.0 L902.4,288.7 L903.8,291.5 L905.1,294.4 L906.5,297.3 L907.9,300.2 L909.2,303.1 L910.6,305.9 L912.0,308.6 L913.3,311.2 L914.7,313.6 L916.1,315.8 L917.4,317.9 L918.8,319.7 L920.2,321.3 L921.5,322.6 L922.9,323.6 L924.3,324.4 L925.6,324.8 L927.0,325.0" fill="none" stroke="#35398a" stroke-width="1.2"/>
<path d="M872.1,325.0 L873.3,324.9 L874.5,324.5 L875.8,323.8 L877.0,323.0 L878.2,321.9 L879.4,320.5 L880.6,319.0 L881.8,317.2 L883.1,315.3 L884.3,313.3 L885.5,311.1 L886.7,308.8 L887.9,306.4 L889.1,304.0 L890.4,301.5 L891.6,299.0 L892.8,296.6 L894.0,294.2 L895.2,291.9 L896.4,289.7 L897.6,287.7 L898.9,285.8 L900.1,284.0 L901.3,282.5 L902.5,281.1 L903.7,280.0 L905.0,279.2 L906.2,278.5 L907.4,278.1 L908.6,278.0 L909.8,278.1 L911.0,278.5 L912.2,279.2 L913.5,280.0 L914.7,281.1 L915.9,282.5 L917.1,284.0 L918.3,285.8 L919.6,287.7 L920.8,289.7 L922.0,291.9 L923.2,294.2 L924.4,296.6 L925.6,299.0 L926.9,301.5 L928.1,304.0 L929.3,306.4 L930.5,308.8 L931.7,311.1 L932.9,313.3 L934.1,315.3 L935.4,317.2 L936.6,319.0 L937.8,320.5 L939.0,321.9 L940.2,323.0 L941.5,323.8 L942.7,324.5 L943.9,324.9 L945.1,325.0 Z" fill="url(#bg)"/>
<path d="M872.1,325.0 L873.3,324.9 L874.5,324.5 L875.8,323.8 L877.0,323.0 L878.2,321.9 L879.4,320.5 L880.6,319.0 L881.8,317.2 L883.1,315.3 L884.3,313.3 L885.5,311.1 L886.7,308.8 L887.9,306.4 L889.1,304.0 L890.4,301.5 L891.6,299.0 L892.8,296.6 L894.0,294.2 L895.2,291.9 L896.4,289.7 L897.6,287.7 L898.9,285.8 L900.1,284.0 L901.3,282.5 L902.5,281.1 L903.7,280.0 L905.0,279.2 L906.2,278.5 L907.4,278.1 L908.6,278.0 L909.8,278.1 L911.0,278.5 L912.2,279.2 L913.5,280.0 L914.7,281.1 L915.9,282.5 L917.1,284.0 L918.3,285.8 L919.6,287.7 L920.8,289.7 L922.0,291.9 L923.2,294.2 L924.4,296.6 L925.6,299.0 L926.9,301.5 L928.1,304.0 L929.3,306.4 L930.5,308.8 L931.7,311.1 L932.9,313.3 L934.1,315.3 L935.4,317.2 L936.6,319.0 L937.8,320.5 L939.0,321.9 L940.2,323.0 L941.5,323.8 L942.7,324.5 L943.9,324.9 L945.1,325.0 Z" fill="url(#lt)"/>
<path d="M872.1,325.0 L873.3,324.9 L874.5,324.5 L875.8,323.8 L877.0,323.0 L878.2,321.9 L879.4,320.5 L880.6,319.0 L881.8,317.2 L883.1,315.3 L884.3,313.3 L885.5,311.1 L886.7,308.8 L887.9,306.4 L889.1,304.0 L890.4,301.5 L891.6,299.0 L892.8,296.6 L894.0,294.2 L895.2,291.9 L896.4,289.7 L897.6,287.7 L898.9,285.8 L900.1,284.0 L901.3,282.5 L902.5,281.1 L903.7,280.0 L905.0,279.2 L906.2,278.5 L907.4,278.1 L908.6,278.0 L909.8,278.1 L911.0,278.5 L912.2,279.2 L913.5,280.0 L914.7,281.1 L915.9,282.5 L917.1,284.0 L918.3,285.8 L919.6,287.7 L920.8,289.7 L922.0,291.9 L923.2,294.2 L924.4,296.6 L925.6,299.0 L926.9,301.5 L928.1,304.0 L929.3,306.4 L930.5,308.8 L931.7,311.1 L932.9,313.3 L934.1,315.3 L935.4,317.2 L936.6,319.0 L937.8,320.5 L939.0,321.9 L940.2,323.0 L941.5,323.8 L942.7,324.5 L943.9,324.9 L945.1,325.0" fill="none" stroke="#35398a" stroke-width="1.2"/>
<path d="M894.8,325.0 L896.0,324.9 L897.2,324.5 L898.4,323.8 L899.6,323.0 L900.8,321.8 L902.0,320.5 L903.2,318.9 L904.4,317.2 L905.6,315.2 L906.8,313.1 L908.0,310.9 L909.2,308.6 L910.4,306.2 L911.6,303.8 L912.8,301.3 L914.0,298.8 L915.2,296.4 L916.4,294.0 L917.6,291.7 L918.8,289.5 L920.0,287.4 L921.2,285.4 L922.4,283.7 L923.6,282.1 L924.8,280.8 L926.0,279.6 L927.2,278.8 L928.4,278.1 L929.6,277.7 L930.8,277.6 L932.0,277.7 L933.2,278.1 L934.4,278.8 L935.6,279.6 L936.8,280.8 L938.0,282.1 L939.2,283.7 L940.4,285.4 L941.6,287.4 L942.8,289.5 L944.0,291.7 L945.2,294.0 L946.4,296.4 L947.6,298.8 L948.8,301.3 L950.0,303.8 L951.2,306.2 L952.4,308.6 L953.6,310.9 L954.8,313.1 L956.0,315.2 L957.2,317.2 L958.4,318.9 L959.6,320.5 L960.8,321.8 L962.0,323.0 L963.2,323.8 L964.4,324.5 L965.6,324.9 L966.8,325.0 Z" fill="url(#bg)"/>
<path d="M894.8,325.0 L896.0,324.9 L897.2,324.5 L898.4,323.8 L899.6,323.0 L900.8,321.8 L902.0,320.5 L903.2,318.9 L904.4,317.2 L905.6,315.2 L906.8,313.1 L908.0,310.9 L909.2,308.6 L910.4,306.2 L911.6,303.8 L912.8,301.3 L914.0,298.8 L915.2,296.4 L916.4,294.0 L917.6,291.7 L918.8,289.5 L920.0,287.4 L921.2,285.4 L922.4,283.7 L923.6,282.1 L924.8,280.8 L926.0,279.6 L927.2,278.8 L928.4,278.1 L929.6,277.7 L930.8,277.6 L932.0,277.7 L933.2,278.1 L934.4,278.8 L935.6,279.6 L936.8,280.8 L938.0,282.1 L939.2,283.7 L940.4,285.4 L941.6,287.4 L942.8,289.5 L944.0,291.7 L945.2,294.0 L946.4,296.4 L947.6,298.8 L948.8,301.3 L950.0,303.8 L951.2,306.2 L952.4,308.6 L953.6,310.9 L954.8,313.1 L956.0,315.2 L957.2,317.2 L958.4,318.9 L959.6,320.5 L960.8,321.8 L962.0,323.0 L963.2,323.8 L964.4,324.5 L965.6,324.9 L966.8,325.0 Z" fill="url(#lt)"/>
<path d="M894.8,325.0 L896.0,324.9 L897.2,324.5 L898.4,323.8 L899.6,323.0 L900.8,321.8 L902.0,320.5 L903.2,318.9 L904.4,317.2 L905.6,315.2 L906.8,313.1 L908.0,310.9 L909.2,308.6 L910.4,306.2 L911.6,303.8 L912.8,301.3 L914.0,298.8 L915.2,296.4 L916.4,294.0 L917.6,291.7 L918.8,289.5 L920.0,287.4 L921.2,285.4 L922.4,283.7 L923.6,282.1 L924.8,280.8 L926.0,279.6 L927.2,278.8 L928.4,278.1 L929.6,277.7 L930.8,277.6 L932.0,277.7 L933.2,278.1 L934.4,278.8 L935.6,279.6 L936.8,280.8 L938.0,282.1 L939.2,283.7 L940.4,285.4 L941.6,287.4 L942.8,289.5 L944.0,291.7 L945.2,294.0 L946.4,296.4 L947.6,298.8 L948.8,301.3 L950.0,303.8 L951.2,306.2 L952.4,308.6 L953.6,310.9 L954.8,313.1 L956.0,315.2 L957.2,317.2 L958.4,318.9 L959.6,320.5 L960.8,321.8 L962.0,323.0 L963.2,323.8 L964.4,324.5 L965.6,324.9 L966.8,325.0" fill="none" stroke="#35398a" stroke-width="1.2"/>
<path d="M918.3,325.0 L919.5,324.9 L920.7,324.5 L921.8,323.8 L923.0,323.0 L924.2,321.8 L925.4,320.5 L926.6,318.9 L927.8,317.2 L928.9,315.2 L930.1,313.1 L931.3,310.9 L932.5,308.6 L933.7,306.2 L934.9,303.8 L936.0,301.3 L937.2,298.8 L938.4,296.4 L939.6,294.0 L940.8,291.7 L942.0,289.5 L943.1,287.4 L944.3,285.4 L945.5,283.7 L946.7,282.1 L947.9,280.8 L949.1,279.6 L950.2,278.8 L951.4,278.1 L952.6,277.7 L953.8,277.6 L955.0,277.7 L956.2,278.1 L957.3,278.8 L958.5,279.6 L959.7,280.8 L960.9,282.1 L962.1,283.7 L963.3,285.4 L964.4,287.4 L965.6,289.5 L966.8,291.7 L968.0,294.0 L969.2,296.4 L970.4,298.8 L971.5,301.3 L972.7,303.8 L973.9,306.2 L975.1,308.6 L976.3,310.9 L977.5,313.1 L978.6,315.2 L979.8,317.2 L981.0,318.9 L982.2,320.5 L983.4,321.8 L984.6,323.0 L985.8,323.8 L986.9,324.5 L988.1,324.9 L989.3,325.0 Z" fill="url(#bg)"/>
<path d="M918.3,325.0 L919.5,324.9 L920.7,324.5 L921.8,323.8 L923.0,323.0 L924.2,321.8 L925.4,320.5 L926.6,318.9 L927.8,317.2 L928.9,315.2 L930.1,313.1 L931.3,310.9 L932.5,308.6 L933.7,306.2 L934.9,303.8 L936.0,301.3 L937.2,298.8 L938.4,296.4 L939.6,294.0 L940.8,291.7 L942.0,289.5 L943.1,287.4 L944.3,285.4 L945.5,283.7 L946.7,282.1 L947.9,280.8 L949.1,279.6 L950.2,278.8 L951.4,278.1 L952.6,277.7 L953.8,277.6 L955.0,277.7 L956.2,278.1 L957.3,278.8 L958.5,279.6 L959.7,280.8 L960.9,282.1 L962.1,283.7 L963.3,285.4 L964.4,287.4 L965.6,289.5 L966.8,291.7 L968.0,294.0 L969.2,296.4 L970.4,298.8 L971.5,301.3 L972.7,303.8 L973.9,306.2 L975.1,308.6 L976.3,310.9 L977.5,313.1 L978.6,315.2 L979.8,317.2 L981.0,318.9 L982.2,320.5 L983.4,321.8 L984.6,323.0 L985.8,323.8 L986.9,324.5 L988.1,324.9 L989.3,325.0 Z" fill="url(#lt)"/>
<path d="M918.3,325.0 L919.5,324.9 L920.7,324.5 L921.8,323.8 L923.0,323.0 L924.2,321.8 L925.4,320.5 L926.6,318.9 L927.8,317.2 L928.9,315.2 L930.1,313.1 L931.3,310.9 L932.5,308.6 L933.7,306.2 L934.9,303.8 L936.0,301.3 L937.2,298.8 L938.4,296.4 L939.6,294.0 L940.8,291.7 L942.0,289.5 L943.1,287.4 L944.3,285.4 L945.5,283.7 L946.7,282.1 L947.9,280.8 L949.1,279.6 L950.2,278.8 L951.4,278.1 L952.6,277.7 L953.8,277.6 L955.0,277.7 L956.2,278.1 L957.3,278.8 L958.5,279.6 L959.7,280.8 L960.9,282.1 L962.1,283.7 L963.3,285.4 L964.4,287.4 L965.6,289.5 L966.8,291.7 L968.0,294.0 L969.2,296.4 L970.4,298.8 L971.5,301.3 L972.7,303.8 L973.9,306.2 L975.1,308.6 L976.3,310.9 L977.5,313.1 L978.6,315.2 L979.8,317.2 L981.0,318.9 L982.2,320.5 L983.4,321.8 L984.6,323.0 L985.8,323.8 L986.9,324.5 L988.1,324.9 L989.3,325.0" fill="none" stroke="#35398a" stroke-width="1.2"/>
<path d="M942.7,325.0 L943.8,324.9 L945.0,324.5 L946.1,323.8 L947.3,323.0 L948.4,321.8 L949.5,320.5 L950.7,318.9 L951.8,317.2 L953.0,315.2 L954.1,313.2 L955.2,310.9 L956.4,308.6 L957.5,306.2 L958.7,303.8 L959.8,301.3 L960.9,298.8 L962.1,296.4 L963.2,294.0 L964.4,291.7 L965.5,289.4 L966.6,287.4 L967.8,285.4 L968.9,283.7 L970.1,282.1 L971.2,280.8 L972.3,279.6 L973.5,278.8 L974.6,278.1 L975.8,277.7 L976.9,277.6 L978.0,277.7 L979.2,278.1 L980.3,278.8 L981.5,279.6 L982.6,280.8 L983.7,282.1 L984.9,283.7 L986.0,285.4 L987.2,287.4 L988.3,289.4 L989.4,291.7 L990.6,294.0 L991.7,296.4 L992.9,298.8 L994.0,301.3 L995.1,303.8 L996.3,306.2 L997.4,308.6 L998.6,310.9 L999.7,313.2 L1000.8,315.2 L1002.0,317.2 L1003.1,318.9 L1004.3,320.5 L1005.4,321.8 L1006.5,323.0 L1007.7,323.8 L1008.8,324.5 L1010.0,324.9 L1011.1,325.0 Z" fill="url(#bg)"/>
<path d="M942.7,325.0 L943.8,324.9 L945.0,324.5 L946.1,323.8 L947.3,323.0 L948.4,321.8 L949.5,320.5 L950.7,318.9 L951.8,317.2 L953.0,315.2 L954.1,313.2 L955.2,310.9 L956.4,308.6 L957.5,306.2 L958.7,303.8 L959.8,301.3 L960.9,298.8 L962.1,296.4 L963.2,294.0 L964.4,291.7 L965.5,289.4 L966.6,287.4 L967.8,285.4 L968.9,283.7 L970.1,282.1 L971.2,280.8 L972.3,279.6 L973.5,278.8 L974.6,278.1 L975.8,277.7 L976.9,277.6 L978.0,277.7 L979.2,278.1 L980.3,278.8 L981.5,279.6 L982.6,280.8 L983.7,282.1 L984.9,283.7 L986.0,285.4 L987.2,287.4 L988.3,289.4 L989.4,291.7 L990.6,294.0 L991.7,296.4 L992.9,298.8 L994.0,301.3 L995.1,303.8 L996.3,306.2 L997.4,308.6 L998.6,310.9 L999.7,313.2 L1000.8,315.2 L1002.0,317.2 L1003.1,318.9 L1004.3,320.5 L1005.4,321.8 L1006.5,323.0 L1007.7,323.8 L1008.8,324.5 L1010.0,324.9 L1011.1,325.0 Z" fill="url(#lt)"/>
<path d="M942.7,325.0 L943.8,324.9 L945.0,324.5 L946.1,323.8 L947.3,323.0 L948.4,321.8 L949.5,320.5 L950.7,318.9 L951.8,317.2 L953.0,315.2 L954.1,313.2 L955.2,310.9 L956.4,308.6 L957.5,306.2 L958.7,303.8 L959.8,301.3 L960.9,298.8 L962.1,296.4 L963.2,294.0 L964.4,291.7 L965.5,289.4 L966.6,287.4 L967.8,285.4 L968.9,283.7 L970.1,282.1 L971.2,280.8 L972.3,279.6 L973.5,278.8 L974.6,278.1 L975.8,277.7 L976.9,277.6 L978.0,277.7 L979.2,278.1 L980.3,278.8 L981.5,279.6 L982.6,280.8 L983.7,282.1 L984.9,283.7 L986.0,285.4 L987.2,287.4 L988.3,289.4 L989.4,291.7 L990.6,294.0 L991.7,296.4 L992.9,298.8 L994.0,301.3 L995.1,303.8 L996.3,306.2 L997.4,308.6 L998.6,310.9 L999.7,313.2 L1000.8,315.2 L1002.0,317.2 L1003.1,318.9 L1004.3,320.5 L1005.4,321.8 L1006.5,323.0 L1007.7,323.8 L1008.8,324.5 L1010.0,324.9 L1011.1,325.0" fill="none" stroke="#35398a" stroke-width="1.2"/>
</g>
<line x1="734.4" x2="734.4" y1="146.8" y2="211" stroke="#8ab2ce" stroke-width="1"/>
<line x1="821.3" x2="821.3" y1="209.3" y2="254.5" stroke="#8ab2ce" stroke-width="1"/>
<line x1="885.8" x2="885.8" y1="243.5" y2="269" stroke="#8ab2ce" stroke-width="1"/>
<line x1="663.2" x2="663.2" y1="326.5" y2="368.2" stroke="#8ab2ce" stroke-width="1"/>
<line x1="743.3" x2="743.3" y1="326.5" y2="368.2" stroke="#8ab2ce" stroke-width="1"/>
<line x1="835.7" x2="835.7" y1="326.5" y2="368.2" stroke="#8ab2ce" stroke-width="1"/>
<line x1="894.4" x2="894.4" y1="326.5" y2="368.2" stroke="#8ab2ce" stroke-width="1"/>
<line x1="941.3" x2="941.3" y1="326.5" y2="368.2" stroke="#8ab2ce" stroke-width="1"/>
<line x1="980.4" x2="980.4" y1="326.5" y2="368.2" stroke="#8ab2ce" stroke-width="1"/>
<text x="737.2" y="154.4" font-size="8.0" fill="#3a3a3a" font-weight="normal" font-style="normal" text-anchor="start" textLength="38.8" lengthAdjust="spacingAndGlyphs" stroke="#3a3a3a" stroke-width="0.15" stroke-linejoin="round">Household</text>
<text x="737.2" y="163.8" font-size="8.0" fill="#3a3a3a" font-weight="normal" font-style="normal" text-anchor="start" textLength="43.6" lengthAdjust="spacingAndGlyphs" stroke="#3a3a3a" stroke-width="0.15" stroke-linejoin="round">Air Pollution</text>
<text x="738.0" y="176.6" font-size="10.5" fill="#7099b8" font-weight="normal" font-style="italic" text-anchor="start" textLength="38.8" lengthAdjust="spacingAndGlyphs">210,000</text>
<text x="826.3" y="220.2" font-size="8.0" fill="#3a3a3a" font-weight="normal" font-style="normal" text-anchor="start" textLength="9.6" lengthAdjust="spacingAndGlyphs" stroke="#3a3a3a" stroke-width="0.15" stroke-linejoin="round">No</text>
<text x="826.3" y="229.5" font-size="8.0" fill="#3a3a3a" font-weight="normal" font-style="normal" text-anchor="start" textLength="49.7" lengthAdjust="spacingAndGlyphs" stroke="#3a3a3a" stroke-width="0.15" stroke-linejoin="round">Handwashing</text>
<text x="826.5" y="241.1" font-size="10.5" fill="#7099b8" font-weight="normal" font-style="italic" text-anchor="start" textLength="37.4" lengthAdjust="spacingAndGlyphs">110,000</text>
<text x="891.2" y="255.8" font-size="8.0" fill="#3a3a3a" font-weight="normal" font-style="normal" text-anchor="start" textLength="29.8" lengthAdjust="spacingAndGlyphs" stroke="#3a3a3a" stroke-width="0.15" stroke-linejoin="round">Outdoor</text>
<text x="891.2" y="265.2" font-size="8.0" fill="#3a3a3a" font-weight="normal" font-style="normal" text-anchor="start" textLength="31.8" lengthAdjust="spacingAndGlyphs" stroke="#3a3a3a" stroke-width="0.15" stroke-linejoin="round">pollution</text>
<text x="670.6" y="341.7" font-size="8.0" fill="#3a3a3a" font-weight="normal" font-style="normal" text-anchor="start" textLength="19" lengthAdjust="spacingAndGlyphs" stroke="#3a3a3a" stroke-width="0.15" stroke-linejoin="round">Child</text>
<text x="670.6" y="351.1" font-size="8.0" fill="#3a3a3a" font-weight="normal" font-style="normal" text-anchor="start" textLength="29.3" lengthAdjust="spacingAndGlyphs" stroke="#3a3a3a" stroke-width="0.15" stroke-linejoin="round">Wasting</text>
<text x="666.3" y="364.4" font-size="10.5" fill="#7099b8" font-weight="normal" font-style="italic" text-anchor="start" textLength="40" lengthAdjust="spacingAndGlyphs">360,000</text>
<text x="748.1" y="341.7" font-size="8.0" fill="#3a3a3a" font-weight="normal" font-style="normal" text-anchor="start" textLength="33.7" lengthAdjust="spacingAndGlyphs" stroke="#3a3a3a" stroke-width="0.15" stroke-linejoin="round">Low Birth</text>
<text x="748.1" y="351.1" font-size="8.0" fill="#3a3a3a" font-weight="normal" font-style="normal" text-anchor="start" textLength="25.4" lengthAdjust="spacingAndGlyphs" stroke="#3a3a3a" stroke-width="0.15" stroke-linejoin="round">Weight</text>
<text x="747.8" y="364.4" font-size="10.5" fill="#7099b8" font-weight="normal" font-style="italic" text-anchor="start" textLength="39.2" lengthAdjust="spacingAndGlyphs">145,000</text>
<text x="841.8" y="342.0" font-size="8.0" fill="#3a3a3a" font-weight="normal" font-style="normal" text-anchor="start" textLength="19.3" lengthAdjust="spacingAndGlyphs" stroke="#3a3a3a" stroke-width="0.15" stroke-linejoin="round">Short</text>
<text x="841.8" y="351.4" font-size="8.0" fill="#3a3a3a" font-weight="normal" font-style="normal" text-anchor="start" textLength="34.9" lengthAdjust="spacingAndGlyphs" stroke="#3a3a3a" stroke-width="0.15" stroke-linejoin="round">Gestation</text>
<text x="840.8" y="364.8" font-size="10.5" fill="#7099b8" font-weight="normal" font-style="italic" text-anchor="start" textLength="38.7" lengthAdjust="spacingAndGlyphs">102,000</text>
<text x="902.9" y="342.0" font-size="8.0" fill="#3a3a3a" font-weight="normal" font-style="normal" text-anchor="start" textLength="18.8" lengthAdjust="spacingAndGlyphs" stroke="#3a3a3a" stroke-width="0.15" stroke-linejoin="round">Child</text>
<text x="902.9" y="351.4" font-size="8.0" fill="#3a3a3a" font-weight="normal" font-style="normal" text-anchor="start" textLength="33.1" lengthAdjust="spacingAndGlyphs" stroke="#3a3a3a" stroke-width="0.15" stroke-linejoin="round">Stunting/</text>
<text x="902.9" y="360.7" font-size="8.0" fill="#3a3a3a" font-weight="normal" font-style="normal" text-anchor="start" textLength="29" lengthAdjust="spacingAndGlyphs" stroke="#3a3a3a" stroke-width="0.15" stroke-linejoin="round">Wasting</text>
<text x="984.9" y="336.2" font-size="8.0" fill="#3a3a3a" font-weight="normal" font-style="normal" text-anchor="start" textLength="45.5" lengthAdjust="spacingAndGlyphs" stroke="#3a3a3a" stroke-width="0.15" stroke-linejoin="round">Secondhand</text>
<text x="984.9" y="345.6" font-size="8.0" fill="#3a3a3a" font-weight="normal" font-style="normal" text-anchor="start" textLength="30.7" lengthAdjust="spacingAndGlyphs" stroke="#3a3a3a" stroke-width="0.15" stroke-linejoin="round">Smoking</text>
</svg>
</body></html>
